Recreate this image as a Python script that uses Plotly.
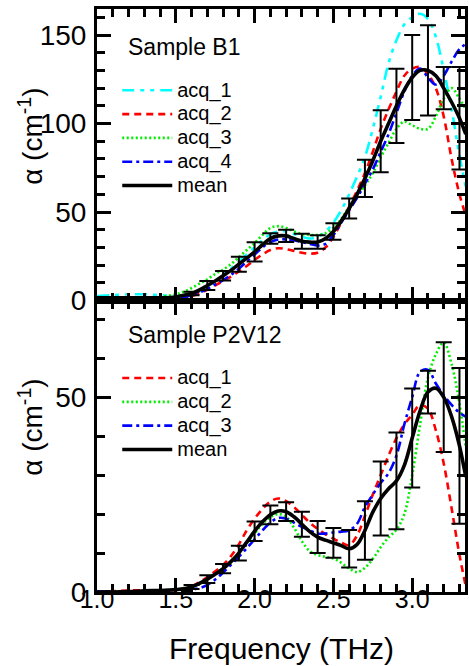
import plotly.graph_objects as go
from plotly.subplots import make_subplots

# ---------------- data ----------------
freq = [1.0, 1.1, 1.2, 1.3, 1.4, 1.5,
        1.55, 1.6, 1.65, 1.7, 1.75, 1.8, 1.85, 1.9, 1.95, 2.0,
        2.05, 2.1, 2.15, 2.2, 2.25, 2.3, 2.35, 2.4, 2.45, 2.5,
        2.55, 2.6, 2.65, 2.7, 2.75, 2.8, 2.85, 2.9, 2.95, 3.0,
        3.05, 3.1, 3.15, 3.2, 3.25, 3.3, 3.34]

# Sample B1
b1_acq_1 = [2.5, 3, 3.5, 3.5, 3, 2.5,
            2.5, 3, 5, 8, 11, 14.5, 18, 22, 26, 30,
            34, 37.5, 39, 39, 37.5, 36, 35, 36, 39, 44,
            51, 60, 70, 81, 97, 115, 134, 147, 156, 160,
            162, 159, 149, 130, 108, 82, 64]
b1_acq_2 = [1, 1, 1, 1, 1, 1,
            1.5, 2.5, 4, 6, 8.5, 11, 13.5, 16.5, 19.5, 23,
            26, 28.5, 29.5, 29, 28, 27, 26.5, 27, 30, 36,
            44, 53, 62, 72, 84, 97, 108, 118, 127, 131,
            132, 128, 120, 104, 80, 60, 48]
b1_acq_3 = [1.5, 1.5, 1.5, 1.5, 2, 3.5,
            5, 7, 9.5, 12, 15, 17.5, 20.5, 24.5, 28.5, 32.5,
            37, 41, 42, 41, 39, 37.5, 37, 37, 38, 41,
            46, 53, 59, 65, 72, 81, 89, 97, 101, 99,
            97, 97, 104, 114, 120, 114, 108]
b1_acq_4 = [1, 1, 1, 1, 1, 1.5,
            2, 3, 4.5, 6.5, 9, 11.5, 14.5, 18, 22, 26,
            30, 33, 34.5, 34.5, 34, 33, 32, 31, 32, 37,
            44, 51, 58, 66, 74, 84, 94, 106, 118, 127,
            131, 126, 122, 127, 135, 142, 145]
b1_mean = [1.5, 1.5, 1.5, 1.5, 1.5, 2,
           3, 4, 6, 8.5, 11, 14, 17, 20.5, 24, 27.5,
           31.5, 35, 36.5, 36.5, 35, 33.5, 33, 33, 35, 39,
           45, 52, 60, 69, 79, 90, 100, 110, 119, 126,
           130, 130, 127, 120, 112, 103, 94]

# Sample P2V12
p2_acq_1 = [0, 0.2, 0.4, 0.4, 0.3, 0.5,
            0.8, 1.5, 2.5, 3.8, 5.3, 7.0, 9.2, 12.2, 15.8, 18.8,
            21.3, 23.2, 24.0, 23.3, 21.8, 19.8, 17.8, 16.2, 14.8, 13.7,
            12.7, 12.0, 14.5, 19.5, 25, 30, 35, 39.5, 43, 45.5,
            48, 47, 41.5, 33, 21.5, 9.5, 1.5]
p2_acq_2 = [0, 0, 0, 0.2, 0.3, 0.6,
            1.0, 1.5, 2.2, 3.2, 4.5, 6.0, 7.8, 10.0, 12.5, 15.0,
            17.5, 19.2, 20.0, 19.3, 16.5, 13.0, 10.5, 9.5, 9.0, 8.6,
            7.5, 6.0, 5.1, 6.2, 8.5, 11.5, 14.0, 16, 20, 30,
            43, 55, 61, 64, 58.5, 48.3, 37]
p2_acq_3 = [0.2, 0, 0, 0, 0, 0.2,
            0.3, 0.6, 1.0, 1.8, 3.2, 5.0, 7.0, 9.0, 11.2, 13.5,
            15.8, 17.8, 19.0, 18.8, 17.8, 16.7, 15.8, 15.0, 15.0, 15.3,
            15.5, 15.8, 17.5, 21.8, 25.0, 28.0, 30.5, 35, 43, 50,
            56.5, 57, 53.5, 50.5, 48, 46, 45]
p2_mean = [0, 0, 0.1, 0.3, 0.4, 0.6,
           0.8, 1.3, 2.2, 3.3, 4.6, 6.0, 7.8, 10.0, 12.8, 15.6,
           18.0, 19.8, 20.8, 20.6, 19.3, 17.4, 15.5, 14.1, 13.3, 12.6,
           11.9, 11.1, 12.2, 15.8, 20.5, 24.0, 26.5, 28.5, 32.5, 39.5,
           46.5, 51.3, 52.3, 50.0, 45.0, 37.5, 29.5]

# error bars (std) of the mean
err_freq = [1.6, 1.7, 1.8, 1.9, 2.0, 2.1, 2.2, 2.3, 2.4, 2.5,
            2.6, 2.7, 2.8, 2.9, 3.0, 3.1, 3.2, 3.3]
b1_err = [1, 2.5, 2.7, 4.2, 5.4, 3, 3.5, 4.2, 3.8, 4.7,
          5.7, 10.5, 17.5, 21, 24, 25.5, 12, 29]
p2_err = [0.5, 1, 1.2, 1.9, 2.5, 2.4, 2.4, 3.2, 4.1, 3.8,
          4.8, 7.5, 9.5, 12.4, 12.7, 5.5, 14.1, 20]

x_ticks = [1.0, 1.5, 2.0, 2.5, 3.0]
x_tick_labels = ["1.0", "1.5", "2.0", "2.5", "3.0"]

# ---------------- styling ----------------
FONT = "Liberation Sans, Arial, sans-serif"
CYAN, RED, GREEN, BLUE = "#00FFFF", "#FF0000", "#00EE00", "#0000FF"
DASH_CYAN = "12px,6px,4px,6px,4px,6px"
DASH_RED = "7px,5px"
DASH_GREEN = "2px,2.5px"
DASH_BLUE = "10px,4px,3px,4px"
LW = 2.6


def lookup(values, fs):
    idx = {round(f, 2): i for i, f in enumerate(freq)}
    return [values[idx[round(f, 2)]] for f in fs]


def leg_name(s):
    return '<span style="font-size:20px">' + s + '</span>'


fig = make_subplots(rows=2, cols=1, shared_xaxes=True, vertical_spacing=0)

# top panel
top_series = [("acq_1", b1_acq_1, CYAN, DASH_CYAN),
              ("acq_2", b1_acq_2, RED, DASH_RED),
              ("acq_3", b1_acq_3, GREEN, DASH_GREEN),
              ("acq_4", b1_acq_4, BLUE, DASH_BLUE)]
for name, vals, col, dash in top_series:
    fig.add_trace(go.Scatter(x=freq, y=vals, name=leg_name(name), mode="lines",
                             line=dict(color=col, width=LW, dash=dash, shape="spline"),
                             legend="legend"), row=1, col=1)
fig.add_trace(go.Scatter(x=err_freq, y=lookup(b1_mean, err_freq), mode="markers",
                         marker=dict(size=1, color="black"), showlegend=False,
                         error_y=dict(type="data", array=b1_err, visible=True,
                                      color="black", thickness=2, width=8),
                         hoverinfo="skip"), row=1, col=1)
fig.add_trace(go.Scatter(x=freq, y=b1_mean, name=leg_name("mean"), mode="lines",
                         line=dict(color="black", width=3.6, shape="spline"),
                         legend="legend"), row=1, col=1)

# bottom panel
bot_series = [("acq_1", p2_acq_1, RED, DASH_RED),
              ("acq_2", p2_acq_2, GREEN, DASH_GREEN),
              ("acq_3", p2_acq_3, BLUE, DASH_BLUE)]
for name, vals, col, dash in bot_series:
    fig.add_trace(go.Scatter(x=freq, y=vals, name=leg_name(name), mode="lines",
                             line=dict(color=col, width=LW, dash=dash, shape="spline"),
                             legend="legend2"), row=2, col=1)
fig.add_trace(go.Scatter(x=err_freq, y=lookup(p2_mean, err_freq), mode="markers",
                         marker=dict(size=1, color="black"), showlegend=False,
                         error_y=dict(type="data", array=p2_err, visible=True,
                                      color="black", thickness=2, width=8),
                         hoverinfo="skip"), row=2, col=1)
fig.add_trace(go.Scatter(x=freq, y=p2_mean, name=leg_name("mean"), mode="lines",
                         line=dict(color="black", width=3.6, shape="spline"),
                         legend="legend2"), row=2, col=1)

axis_common = dict(showline=True, linewidth=3, linecolor="black", mirror="allticks",
                   ticks="inside", ticklen=14, tickwidth=2.5, tickcolor="black",
                   showgrid=False, zeroline=False,
                   tickfont=dict(family=FONT, size=25, color="black"))

fig.update_xaxes(**axis_common, range=[1.0, 3.335], tickvals=x_ticks, ticktext=x_tick_labels,
                 ticklabeloverflow="allow",
                 minor=dict(dtick=0.1, tick0=1.0, ticks="inside", ticklen=8, tickwidth=2.5,
                            tickcolor="black", showgrid=False))
fig.update_xaxes(showticklabels=False, row=1, col=1)
fig.update_xaxes(ticklabelstandoff=-17, row=2, col=1)

fig.update_yaxes(**axis_common)
fig.update_yaxes(tickfont=dict(family=FONT, size=28, color="black"), ticklabelstandoff=2)
fig.update_yaxes(range=[0, 164.7], tickvals=[0, 50, 100, 150],
                 minor=dict(dtick=10, tick0=0, ticks="inside", ticklen=8, tickwidth=2.5,
                            tickcolor="black", showgrid=False), row=1, col=1)
fig.update_yaxes(range=[0, 74.8], tickvals=[0, 50],
                 minor=dict(dtick=10, tick0=0, ticks="inside", ticklen=8, tickwidth=2.5,
                            tickcolor="black", showgrid=False), row=2, col=1)

legend_common = dict(font=dict(family=FONT, size=16, color="black"),
                     bgcolor="rgba(0,0,0,0)", borderwidth=0, itemwidth=50,
                     xanchor="left", yanchor="top", tracegroupgap=0)
fig.update_layout(
    width=469, height=666,
    margin=dict(l=97, r=1, t=9, b=74),
    paper_bgcolor="white", plot_bgcolor="white",
    font=dict(family=FONT, color="black"),
    legend=dict(**legend_common, x=0.055, y=0.8895),
    legend2=dict(**legend_common, x=0.055, y=0.396),
    annotations=[
        dict(text="Sample B1", x=0.08, y=0.935, xref="paper", yref="paper",
             xanchor="left", yanchor="middle", showarrow=False,
             font=dict(family=FONT, size=23, color="black")),
        dict(text="Sample P2V12", x=0.08, y=0.441, xref="paper", yref="paper",
             xanchor="left", yanchor="middle", showarrow=False,
             font=dict(family=FONT, size=23, color="black")),
        dict(text="α (cm<sup>-1</sup>)", x=-0.18, y=0.782, xref="paper", yref="paper",
             xanchor="center", yanchor="middle", textangle=-90, showarrow=False,
             font=dict(family=FONT, size=28, color="black")),
        dict(text="α (cm<sup>-1</sup>)", x=-0.18, y=0.283, xref="paper", yref="paper",
             xanchor="center", yanchor="middle", textangle=-90, showarrow=False,
             font=dict(family=FONT, size=28, color="black")),
        dict(text="Frequency (THz)", x=0.5, y=-0.0975, xref="paper", yref="paper",
             xanchor="center", yanchor="middle", showarrow=False,
             font=dict(family=FONT, size=30, color="black")),
    ],
)

fig.write_html("out.html", config={"displayModeBar": False},
               post_script="document.body.style.margin='0px';"
                           "document.body.style.overflow='hidden';")
